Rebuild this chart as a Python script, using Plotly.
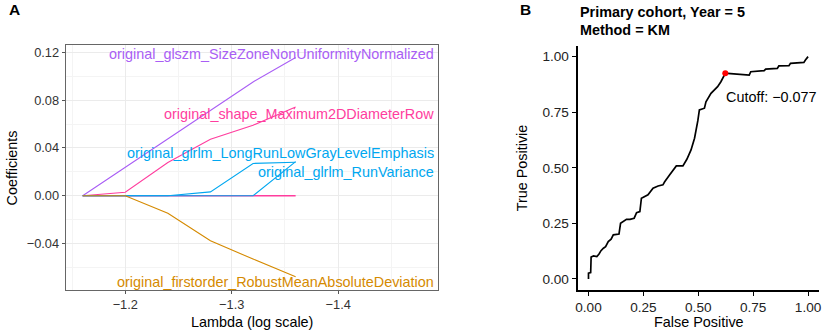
import plotly.graph_objects as go

# ---------------- Panel A data (LASSO coefficient paths) ----------------
log_lambda = [-1.16, -1.20, -1.24, -1.28, -1.32, -1.36]
feat_names = [
    "original_glszm_SizeZoneNonUniformityNormalized",
    "original_shape_Maximum2DDiameterRow",
    "original_glrlm_LongRunLowGrayLevelEmphasis",
    "original_glrlm_RunVariance",
    "original_firstorder_RobustMeanAbsoluteDeviation",
]
coef_glszm = [0.0, 0.0237, 0.0473, 0.0708, 0.0952, 0.1157]
coef_shape = [0.0, 0.0029, 0.0278, 0.0473, 0.0590, 0.0743]
coef_longrun = [0.0, 0.0, 0.0, 0.0032, 0.0270, 0.0280]
coef_runvar = [0.0, 0.0, 0.0, 0.0, 0.0, 0.0285]
coef_firstorder = [0.0, 0.0, -0.0147, -0.0377, -0.0530, -0.0678]
coef_zero = [0.0, 0.0, 0.0, 0.0, 0.0, 0.0]
label_y = [0.1183, 0.068, 0.0357, 0.0198, -0.0725]
label_x = -1.4916
feat_colors = ["#A95EF5", "#FF3D9E", "#00A7F0", "#00A7F0", "#D58A00"]

# ---------------- Panel B data (time-dependent ROC) ----------------
fpr = [0.000, 0.000, 0.010, 0.012, 0.023, 0.038, 0.048, 0.057, 0.068, 0.078,
       0.090, 0.103, 0.113, 0.128, 0.139, 0.146, 0.158, 0.173, 0.189, 0.208,
       0.219, 0.234, 0.241, 0.257, 0.271, 0.294, 0.317, 0.339, 0.347, 0.370,
       0.392, 0.400, 0.430, 0.448, 0.467, 0.483, 0.498, 0.505, 0.528, 0.535,
       0.558, 0.588, 0.603, 0.623, 0.633, 0.732, 0.739, 0.800, 0.807, 0.860,
       0.867, 0.913, 0.920, 0.981, 0.988, 1.000]
tpr = [0.000, 0.026, 0.028, 0.098, 0.103, 0.100, 0.112, 0.127, 0.138, 0.145,
       0.168, 0.179, 0.198, 0.202, 0.202, 0.250, 0.258, 0.268, 0.268, 0.273,
       0.298, 0.303, 0.363, 0.373, 0.378, 0.408, 0.418, 0.423, 0.437, 0.468,
       0.498, 0.508, 0.508, 0.538, 0.580, 0.633, 0.712, 0.760, 0.768, 0.797,
       0.835, 0.865, 0.887, 0.925, 0.925, 0.917, 0.932, 0.937, 0.944, 0.947,
       0.958, 0.959, 0.970, 0.974, 0.985, 1.000]
cutoff_fpr = 0.623
cutoff_tpr = 0.925
cutoff_value = "−0.077"
roc_ticks = [0.0, 0.25, 0.5, 0.75, 1.0]
roc_ticktext = ["0.00", "0.25", "0.50", "0.75", "1.00"]

FONT = "Liberation Sans, Arial, Helvetica, sans-serif"
W, H = 829, 331
TITLE_SIZE = 14.4
LABEL_SIZE = 14.4


def px_x(v):
    return v / W


def px_y(v):
    return 1 - v / H


fig = go.Figure()

# zero line (features with zero coefficient)
fig.add_trace(go.Scatter(x=log_lambda, y=coef_zero, mode="lines",
                         line=dict(color="#FF3D9E", width=1.6),
                         xaxis="x", yaxis="y", showlegend=False))
series = [coef_glszm, coef_shape, coef_longrun, coef_runvar, coef_firstorder]
for ys, col in zip(series, feat_colors):
    fig.add_trace(go.Scatter(x=log_lambda, y=ys, mode="lines",
                             line=dict(color=col, width=1.1),
                             xaxis="x", yaxis="y", showlegend=False))

fig.add_trace(go.Scatter(x=fpr, y=tpr, mode="lines",
                         line=dict(color="black", width=1.7),
                         xaxis="x2", yaxis="y2", showlegend=False))
fig.add_trace(go.Scatter(x=[cutoff_fpr], y=[cutoff_tpr], mode="markers",
                         marker=dict(color="red", size=6),
                         xaxis="x2", yaxis="y2", showlegend=False))

annotations = []
for name, ly, col in zip(feat_names, label_y, feat_colors):
    annotations.append(dict(x=label_x, y=ly, xref="x", yref="y", text=name,
                            showarrow=False, xanchor="right", yanchor="middle",
                            font=dict(family=FONT, size=LABEL_SIZE, color=col)))
annotations.append(dict(x=cutoff_fpr - 0.004, y=0.82, xref="x2", yref="y2",
                        text="Cutoff: " + cutoff_value, showarrow=False,
                        xanchor="left", yanchor="middle",
                        font=dict(family=FONT, size=LABEL_SIZE, color="black")))
# panel letters and titles
annotations += [
    dict(x=px_x(13), y=px_y(10), xref="paper", yref="paper", text="<b>A</b>",
         showarrow=False, xanchor="center", yanchor="middle",
         font=dict(family=FONT, size=15.5, color="black")),
    dict(x=px_x(527), y=px_y(10), xref="paper", yref="paper", text="<b>B</b>",
         showarrow=False, xanchor="center", yanchor="middle",
         font=dict(family=FONT, size=15.5, color="black")),
    dict(x=px_x(579), y=px_y(12.5), xref="paper", yref="paper",
         text="<b>Primary cohort, Year = 5</b>", showarrow=False,
         xanchor="left", yanchor="middle",
         font=dict(family=FONT, size=TITLE_SIZE, color="black")),
    dict(x=px_x(579), y=px_y(30.5), xref="paper", yref="paper",
         text="<b>Method = KM</b>", showarrow=False,
         xanchor="left", yanchor="middle",
         font=dict(family=FONT, size=TITLE_SIZE, color="black")),
    dict(x=px_x(252), y=px_y(321.5), xref="paper", yref="paper",
         text="Lambda (log scale)", showarrow=False,
         xanchor="center", yanchor="middle",
         font=dict(family=FONT, size=TITLE_SIZE, color="black")),
    dict(x=px_x(11), y=px_y(167.5), xref="paper", yref="paper",
         text="Coefficients", showarrow=False, textangle=-90,
         xanchor="center", yanchor="middle",
         font=dict(family=FONT, size=TITLE_SIZE, color="black")),
    dict(x=px_x(701), y=px_y(322), xref="paper", yref="paper",
         text="False Positive", showarrow=False,
         xanchor="center", yanchor="middle",
         font=dict(family=FONT, size=TITLE_SIZE, color="black")),
    dict(x=px_x(524), y=px_y(167.5), xref="paper", yref="paper",
         text="True Positivie", showarrow=False, textangle=-90,
         xanchor="center", yanchor="middle",
         font=dict(family=FONT, size=TITLE_SIZE, color="black")),
]

fig.update_layout(
    width=W, height=H,
    margin=dict(l=0, r=0, t=0, b=0),
    paper_bgcolor="white", plot_bgcolor="white",
    font=dict(family=FONT, size=12.5, color="#222"),
    showlegend=False,
    annotations=annotations,
    xaxis=dict(
        domain=[px_x(64), px_x(439)],
        range=[-1.144, -1.494],
        tickvals=[-1.2, -1.3, -1.4], ticktext=["−1.2", "−1.3", "−1.4"],
        showgrid=True, gridcolor="#EBEBEB", gridwidth=1.1,
        minor=dict(tickvals=[-1.15, -1.25, -1.35, -1.45], showgrid=True,
                   gridcolor="#F4F4F4", gridwidth=0.6, ticks=""),
        zeroline=False, showline=True, mirror=True, linecolor="#666", linewidth=1,
        ticks="outside", ticklen=3, tickcolor="#555", tickwidth=1,
        tickfont=dict(family=FONT, size=12.8, color="#333"),
        anchor="y",
    ),
    yaxis=dict(
        domain=[px_y(290), px_y(45)],
        range=[-0.0789, 0.1261],
        tickvals=[-0.04, 0.0, 0.04, 0.08, 0.12],
        ticktext=["−0.04", "0.00", "0.04", "0.08", "0.12"],
        showgrid=True, gridcolor="#EBEBEB", gridwidth=1.1,
        minor=dict(tickvals=[-0.06, -0.02, 0.02, 0.06, 0.10], showgrid=True,
                   gridcolor="#F4F4F4", gridwidth=0.6, ticks=""),
        zeroline=False, showline=True, mirror=True, linecolor="#666", linewidth=1,
        ticks="outside", ticklen=3, tickcolor="#555", tickwidth=1,
        tickfont=dict(family=FONT, size=12.8, color="#333"),
        anchor="x",
    ),
    xaxis2=dict(
        domain=[px_x(579), px_x(822)],
        range=[-0.05, 1.05],
        tickvals=roc_ticks, ticktext=roc_ticktext,
        showgrid=False, zeroline=False,
        showline=True, linecolor="black", linewidth=1.8,
        ticks="outside", ticklen=4, tickcolor="black", tickwidth=1.2,
        tickfont=dict(family=FONT, size=13.6, color="#222"),
        anchor="y2",
    ),
    yaxis2=dict(
        domain=[px_y(290), px_y(45.5)],
        range=[-0.05, 1.05],
        tickvals=roc_ticks, ticktext=roc_ticktext,
        showgrid=False, zeroline=False,
        showline=True, linecolor="black", linewidth=1.8,
        ticks="outside", ticklen=4, tickcolor="black", tickwidth=1.2,
        tickfont=dict(family=FONT, size=13.6, color="#222"),
        anchor="x2",
    ),
)

fig.write_html("out.html", config={"displayModeBar": False},
               post_script="document.body.style.margin='0';")
